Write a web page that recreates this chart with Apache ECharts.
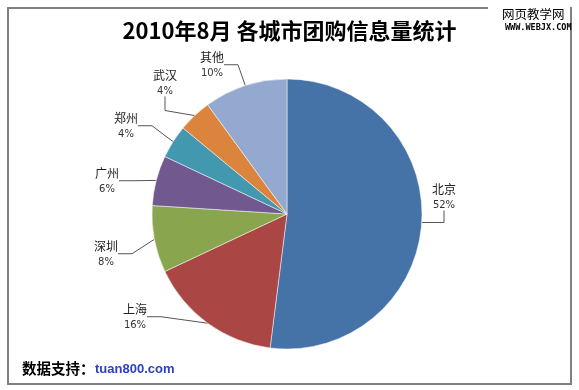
<!DOCTYPE html>
<html><head><meta charset="utf-8">
<script src="https://cdn.jsdelivr.net/npm/echarts@6/dist/echarts.min.js"></script>
<style>html,body{margin:0;padding:0;background:#fff}#c{width:579px;height:390px}</style>
</head><body><div id="c"></div>
<script>
const cities = ['北京', '上海', '深圳', '广州', '郑州', '武汉', '其他'];
const shares = [52, 16, 8, 6, 4, 4, 10];
const colors = ['#4572A7', '#AA4643', '#89A54E', '#71588F', '#4198AF', '#DB843D', '#93A9CF'];

// label block centres (layout only)
const labelAt = [[444, 197], [135, 317], [106, 254], [107, 181], [126, 126], [165, 83], [212, 65]];

const chart = echarts.init(document.getElementById('c'));
chart.setOption({
  animation: false,
  title: {
    text: '2010年8月 各城市团购信息量统计',
    left: 'center', top: 15,
    textStyle: { fontFamily: 'Noto Sans CJK SC', fontWeight: 'bold', fontSize: 22, color: '#000' }
  },
  graphic: [
    { type: 'rect', shape: { x: 8, y: 8, width: 563, height: 376 }, style: { fill: 'none', stroke: '#808080', lineWidth: 2 }, z: 1 },
    { type: 'rect', shape: { x: 488, y: 0, width: 82, height: 34 }, style: { fill: '#fff', stroke: 'none' }, z: 2 },
    { type: 'text', x: 502, y: 8, style: { text: '网页教学网', font: '12.5px "Noto Sans CJK SC"', fill: '#000' }, z: 3 },
    { type: 'text', x: 505, y: 23, style: { text: 'WWW.WEBJX.COM', font: 'bold 8.5px "DejaVu Sans Mono"', fill: '#000' }, z: 3 },
    { type: 'text', x: 22, y: 361, style: { text: '数据支持：', font: 'bold 14.5px "Noto Sans CJK SC"', fill: '#000' }, z: 3 },
    { type: 'text', x: 95, y: 363, style: { text: 'tuan800.com', font: 'bold 13px "Liberation Sans"', fill: '#2a3fc4' }, z: 3 }
  ],
  series: [{
    type: 'pie',
    center: [287, 214],
    radius: 135,
    startAngle: 90,
    clockwise: true,
    color: colors,
    itemStyle: { borderColor: '#fff', borderWidth: 0.5 },
    label: {
      show: true,
      formatter: '{n|{b}}\n{p|{d}%}',
      rich: {
        n: { fontFamily: 'Noto Sans CJK SC', fontSize: 12, color: '#222', align: 'center', lineHeight: 17 },
        p: { fontFamily: 'DejaVu Sans', fontSize: 10, color: '#333', align: 'center', lineHeight: 16 }
      }
    },
    labelLine: { show: true, length: 12, length2: 14, lineStyle: { color: '#555', width: 1 } },
    labelLayout: function (p) {
      const pos = labelAt[p.dataIndex];
      return { x: pos[0], y: pos[1], align: 'center', verticalAlign: 'middle' };
    },
    data: cities.map((c, i) => ({ name: c, value: shares[i] }))
  }]
});
</script></body></html>
